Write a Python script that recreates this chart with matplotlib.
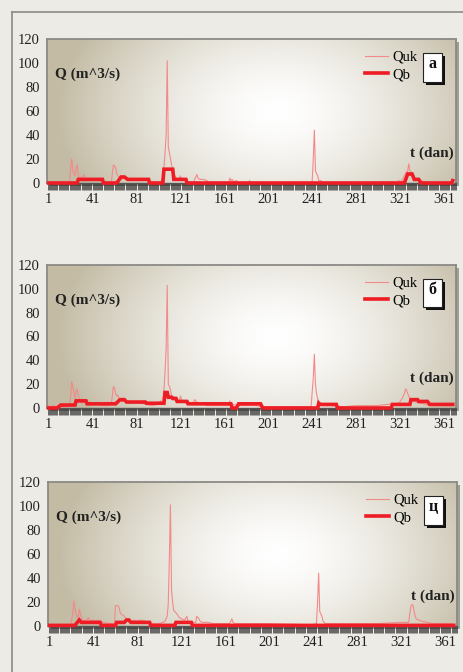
import numpy as np
import matplotlib
matplotlib.use("Agg")
import matplotlib.pyplot as plt
from matplotlib.lines import Line2D
from matplotlib.patches import Rectangle
from matplotlib.ticker import MultipleLocator, FixedLocator

plt.rcParams['font.family'] = ['Liberation Serif', 'DejaVu Serif']

# ---------------- data (day, value) breakpoints ----------------
x_ticks = [1, 41, 81, 121, 161, 201, 241, 281, 321, 361]
y_ticks = [0, 20, 40, 60, 80, 100, 120]
panel_labels = ['а', 'б', 'ц']
series_names = ['Quk', 'Qb']

quk_a_days = [1, 20, 21, 22, 23, 24, 25, 26, 27, 28, 29, 30, 31, 32, 33, 34, 35, 36, 38, 40, 42, 45, 48, 50, 55,
              58, 59, 60, 61, 62, 63, 64, 65, 66, 68, 70, 71, 74, 76, 78, 82, 86, 90, 92, 100,
              103, 104, 105, 106, 107, 108, 109, 110, 111, 112, 113, 114, 115, 116, 117, 118, 120, 121, 122,
              124, 126, 128, 130, 133, 134, 136, 137, 139, 142, 145, 147, 165, 166, 167, 168, 170, 172, 174,
              183, 184, 185, 240, 241, 242, 243, 244, 245, 246, 247, 249, 250, 318, 320, 322, 324, 326, 328,
              329, 330, 331, 332, 333, 335, 337, 340, 344, 346, 370]
quk_a_vals = [0, 0, 12, 20, 10, 8, 6, 12, 15, 7, 4, 5, 3, 4, 7, 5, 3, 4, 3, 4, 3, 3, 2, 1, 0,
              0, 8, 15, 14, 13, 8, 6, 5, 3, 4, 6, 3, 3, 4, 2, 3, 2, 3, 1, 0,
              0, 3, 5, 12, 25, 40, 102, 30, 25, 20, 15, 10, 8, 6, 4, 3, 3, 6, 3,
              3, 2, 1, 0, 0, 3, 7, 4, 3, 3, 2, 0, 0, 4, 2, 3, 1, 2, 0,
              0, 2, 0, 0, 1, 20, 44, 10, 8, 6, 2, 2, 0, 0, 2, 1, 4, 8, 10,
              16, 10, 9, 8, 5, 4, 3, 2, 1, 0, 0]

qb_a_days = [1, 27, 28, 50, 51, 63, 67, 70, 73, 92, 93, 105, 106, 114, 115, 126, 127,
             325, 328, 332, 334, 338, 340, 368, 369]
qb_a_vals = [0, 0, 3, 3, 0, 0, 5, 5, 3, 3, 0, 0, 11.5, 11.5, 3, 3, 0,
             0, 7.5, 7.5, 3, 3, 0, 0, 2]

quk_b_days = [1, 3, 5, 7, 9, 11, 14, 18, 20, 21, 22, 23, 24, 25, 26, 27, 28, 29, 30, 32, 34, 36, 38, 40, 43,
              46, 50, 55, 58, 59, 60, 61, 62, 63, 64, 65, 66, 68, 70, 72, 75, 80, 85, 90, 95, 100, 103,
              104, 105, 106, 107, 108, 109, 110, 111, 112, 113, 114, 115, 116, 117, 118, 120, 121, 122,
              124, 126, 130, 132, 134, 136, 138, 140, 142, 145, 150, 160, 165, 166, 167, 170, 172, 175,
              180, 190, 195, 200, 240, 242, 243, 244, 245, 246, 247, 249, 252, 260, 270, 280, 290, 300,
              310, 320, 323, 325, 326, 327, 328, 330, 332, 335, 340, 345, 350, 360, 368]
quk_b_vals = [2, 1, 2, 1, 2, 1, 1, 1, 1, 10, 22, 18, 12, 8, 15, 16, 10, 9, 5, 4, 6, 3, 5, 3, 4,
              3, 2, 2, 3, 10, 18, 17, 12, 10, 11, 8, 7, 5, 6, 5, 5, 5, 4, 3, 2, 3, 6,
              4, 5, 15, 30, 50, 103, 20, 18, 15, 10, 10, 8, 9, 7, 5, 6, 10, 7,
              5, 4, 3, 3, 7, 5, 4, 3, 4, 2, 2, 2, 2, 6, 2, 3, 2, 2,
              2, 2, 1, 1, 1, 25, 45, 20, 12, 8, 5, 3, 2, 2, 1, 2, 2, 2,
              3, 4, 8, 12, 16, 15, 12, 8, 6, 5, 4, 3, 2, 2, 2]

qb_b_days = [1, 9, 12, 25, 26, 35, 36, 62, 66, 70, 72, 89, 90, 106, 107, 109, 110, 113, 114, 117, 118, 127, 128,
             167, 168, 172, 174, 194, 196, 246, 247, 248, 263, 264, 313, 314, 330, 331, 337, 338, 346, 348, 369]
qb_b_vals = [0, 0, 2.5, 2.5, 6, 6, 3.5, 3.5, 7, 7, 5, 5, 4, 4, 13, 13, 9, 9, 8, 8, 5.5, 5.5, 3.5,
             3.5, 0, 0, 3.5, 3.5, 0, 0, 4, 3, 3, 0, 0, 3, 3, 7, 7, 5.5, 5.5, 3, 3]

quk_c_days = [1, 20, 22, 23, 24, 25, 26, 27, 28, 29, 30, 31, 33, 35, 36, 38, 40, 43, 46, 48, 50, 55, 60,
              61, 62, 63, 64, 65, 66, 68, 70, 72, 74, 76, 78, 80, 84, 88, 92, 96, 100, 104, 106, 108,
              109, 110, 111, 112, 113, 114, 115, 117, 119, 121, 124, 126, 127, 130, 134, 135, 136, 137,
              138, 140, 145, 150, 165, 167, 168, 170, 180, 200, 240, 244, 245, 246, 247, 248, 249, 250,
              252, 260, 300, 320, 328, 329, 330, 331, 332, 333, 334, 335, 337, 340, 345, 350, 368]
quk_c_vals = [0, 0, 10, 21, 15, 10, 8, 6, 14, 10, 7, 5, 4, 5, 7, 4, 5, 4, 5, 3, 3, 2, 2,
              17, 17, 17, 16, 12, 10, 9, 7, 5, 6, 4, 5, 4, 5, 4, 3, 2, 2, 3, 4, 8,
              18, 55, 101, 30, 20, 13, 12, 10, 7, 6, 5, 8, 4, 3, 3, 8, 7, 6,
              4, 3, 3, 2, 2, 6, 3, 2, 2, 2, 1, 2, 20, 44, 12, 10, 8, 4,
              2, 2, 2, 3, 3, 10, 16, 18, 17, 12, 8, 6, 5, 4, 3, 2, 2]

qb_c_days = [1, 24, 28, 30, 47, 48, 61, 62, 69, 71, 73, 75, 92, 93, 115, 116, 130, 131, 369]
qb_c_vals = [0.5, 0.5, 5, 3, 3, 0.5, 0.5, 3, 3, 5, 5, 3, 3, 0.5, 0.5, 3, 3, 0.5, 0.5]

panels = [
    (quk_a_days, quk_a_vals, qb_a_days, qb_a_vals),
    (quk_b_days, quk_b_vals, qb_b_days, qb_b_vals),
    (quk_c_days, quk_c_vals, qb_c_days, qb_c_vals),
]

# ---------------- figure ----------------
W, H = 463, 672
fig = plt.figure(figsize=(W / 100, H / 100), dpi=100)
fig.patch.set_facecolor('#ecebe6')

# outer frame lines
fig.add_artist(Line2D([12 / W, 12 / W], [0, 1 - 12 / H], color='#8a8a88', lw=1.2))
fig.add_artist(Line2D([12 / W, 1], [1 - 12 / H, 1 - 12 / H], color='#8a8a88', lw=1.2))

# axes rectangles in pixels: (left, top, right, bottom)
rects_px = [(47, 39, 456, 183), (47, 265, 456, 408), (48, 482, 457, 626)]

# radial gradient background
gw, gh = 409, 144
xx, yy = np.meshgrid(np.arange(gw), np.arange(gh))
cx, cy = 0.56 * gw, 0.50 * gh
d = np.sqrt((xx - cx) ** 2 + ((yy - cy) * 1.5) ** 2) / 220.0
t = np.clip(d, 0, 1) ** 1.5
white = np.array([1.0, 1.0, 1.0])
tan = np.array([0.765, 0.735, 0.645])
grad = white[None, None, :] * (1 - t[..., None]) + tan[None, None, :] * t[..., None]

quk_color = '#f28a8a'
qb_color = '#ee1c24'

for i, (qd, qv, bd, bv) in enumerate(panels):
    l, tp, r, b = rects_px[i]
    pos = [l / W, 1 - b / H, (r - l) / W, (b - tp) / H]
    # drop shadow
    fig.add_artist(Rectangle((pos[0] + 3 / W, pos[1] - 3 / H), pos[2], pos[3],
                             transform=fig.transFigure, facecolor='#a29d93', edgecolor='none', zorder=0))
    ax = fig.add_axes(pos)
    ax.set_zorder(1)
    ax.imshow(grad, extent=(0, 1, 0, 1), transform=ax.transAxes, aspect='auto', zorder=0,
              interpolation='bilinear')

    ax.plot(qd, qv, color=quk_color, lw=0.8, zorder=3, clip_on=False)
    ax.plot(bd, bv, color=qb_color, lw=2.6, zorder=4, clip_on=False, solid_joinstyle='miter')

    ax.set_xlim(-0.5, 372)
    ax.set_ylim(0, 120)
    ax.xaxis.set_major_locator(FixedLocator(x_ticks))
    ax.xaxis.set_minor_locator(MultipleLocator(1))
    ax.set_yticks(y_ticks)
    ax.tick_params(axis='x', which='both', direction='out', length=5, width=0.45,
                   color='#1a1a1a', labelsize=10.5, pad=2)
    ax.tick_params(axis='y', length=0, labelsize=10.5, pad=5)
    for s in ['top', 'right', 'left']:
        ax.spines[s].set_color('#8c8a86')
        ax.spines[s].set_linewidth(1.3)
    ax.spines['bottom'].set_color('#555555')
    ax.spines['bottom'].set_linewidth(1.0)
    for lab in ax.get_xticklabels() + ax.get_yticklabels():
        lab.set_color('#222222')

    ax.text(0.02, 0.755, 'Q (m^3/s)', transform=ax.transAxes, fontsize=11,
            fontweight='bold', va='center', ha='left', color='#222222', zorder=6)
    ax.text(0.993, 0.206, 't (dan)', transform=ax.transAxes, fontsize=11,
            fontweight='bold', va='center', ha='right', color='#222222', zorder=6)

    handles = [Line2D([], [], color=quk_color, lw=0.8), Line2D([], [], color=qb_color, lw=2.6)]
    ax.legend(handles, series_names, loc='upper right', bbox_to_anchor=(0.905, 0.92),
              frameon=False, fontsize=10.5, handlelength=1.6, handletextpad=0.25,
              labelspacing=0.3, borderpad=0, borderaxespad=0)

    # label box with shadow
    bx0, bx1 = 0.919, 0.965
    by0, by1 = 0.703, 0.905
    ax.add_patch(Rectangle((bx0 + 3 / 409, by0 - 3 / 144), bx1 - bx0, by1 - by0, transform=ax.transAxes,
                           facecolor='#111111', edgecolor='none', zorder=6, clip_on=False))
    ax.add_patch(Rectangle((bx0, by0), bx1 - bx0, by1 - by0, transform=ax.transAxes,
                           facecolor='white', edgecolor='#222222', lw=0.8, zorder=7, clip_on=False))
    ax.text((bx0 + bx1) / 2, (by0 + by1) / 2 + 0.02, panel_labels[i], transform=ax.transAxes,
            fontsize=11.5, fontweight='bold', ha='center', va='center', zorder=8, color='#111111')

fig.savefig('out.png', dpi=100, facecolor=fig.get_facecolor())
